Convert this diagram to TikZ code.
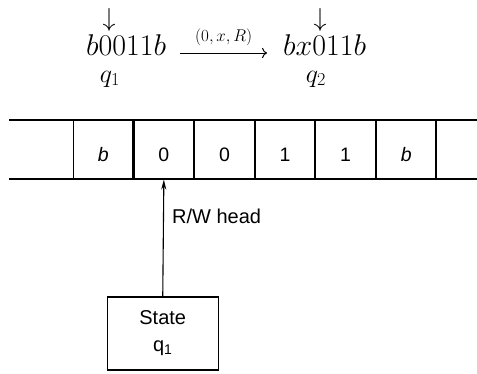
\RequirePackage{fix-cm}
\documentclass[tikz,border=0pt]{standalone}
\usepackage{fontspec}
\setsansfont{Liberation Sans}
\usetikzlibrary{arrows.meta, positioning}

\begin{document}
\begin{tikzpicture}[
    x=1pt, y=-1pt,
    cell/.style={
        rectangle, draw, line width=1.1pt,
        minimum width=59.5pt, minimum height=59pt,
        inner sep=0pt, text height=23pt, text depth=0pt,
        font=\sffamily\fontsize{19.5}{22}\selectfont
    },
    statebox/.style={
        rectangle, draw, line width=1.1pt,
        minimum width=111pt, minimum height=73pt,
        align=center,
        font=\sffamily\fontsize{20}{27}\selectfont
    },
    cfg/.style={font=\fontsize{30}{34}\selectfont, inner sep=0pt, anchor=base west},
    ptr/.style={font=\fontsize{26}{30}\selectfont, inner sep=0pt},
    tapeline/.style={line width=1.1pt},
    headarrow/.style={-{Stealth[length=10pt,width=5pt]}, line width=1.1pt},
    trans/.style={-{Computer Modern Rightarrow[scale=1.3]}, line width=1pt},
    translbl/.style={font=\fontsize{17}{19}\selectfont, inner sep=1pt}
]
\useasboundingbox (0,0) rectangle (477,373);

% --- configurations ---

\node[cfg] (lhs) at (86,55) {$b0011b$};
\node[ptr] (lhsptr) at (109,19.5) {$\downarrow$};
\node[ptr, anchor=base] (lhsq) at (110,82) {$q_1$};

\node[cfg] (rhs) at (283,55) {$bx011b$};
\node[ptr] (rhsptr) at (320,19.5) {$\downarrow$};
\node[ptr, anchor=base] (rhsq) at (316,82) {$q_2$};

\draw[trans] ([xshift=14pt,yshift=2pt]lhs.base east) -- node[translbl, above=6pt] {$(0,x,R)$} ([xshift=-16pt,yshift=2pt]rhs.base west);

% --- tape ---

\draw[tapeline] (9,120) -- (477,120);
\draw[tapeline] (9,179) -- (477,179);

\node[cell] (c1) at (103.25,149.5) {\textit{b}};
\node[cell, right=0pt of c1] (c2) {0};
\node[cell, right=0pt of c2] (c3) {0};
\node[cell, right=0pt of c3] (c4) {1};
\node[cell, right=0pt of c4] (c5) {1};
\node[cell, right=0pt of c5] (c6) {\textit{b}};

% --- control ---

\node[statebox] (st) at (162.75,333.5) {State\\q\textsubscript{1}};
\draw[headarrow] (st.north) -- (c2.south);
\node[font=\sffamily\fontsize{20}{24}\selectfont, anchor=west, inner sep=0pt] (rwlbl) at (172,216) {R/W head};

\end{tikzpicture}
\end{document}
